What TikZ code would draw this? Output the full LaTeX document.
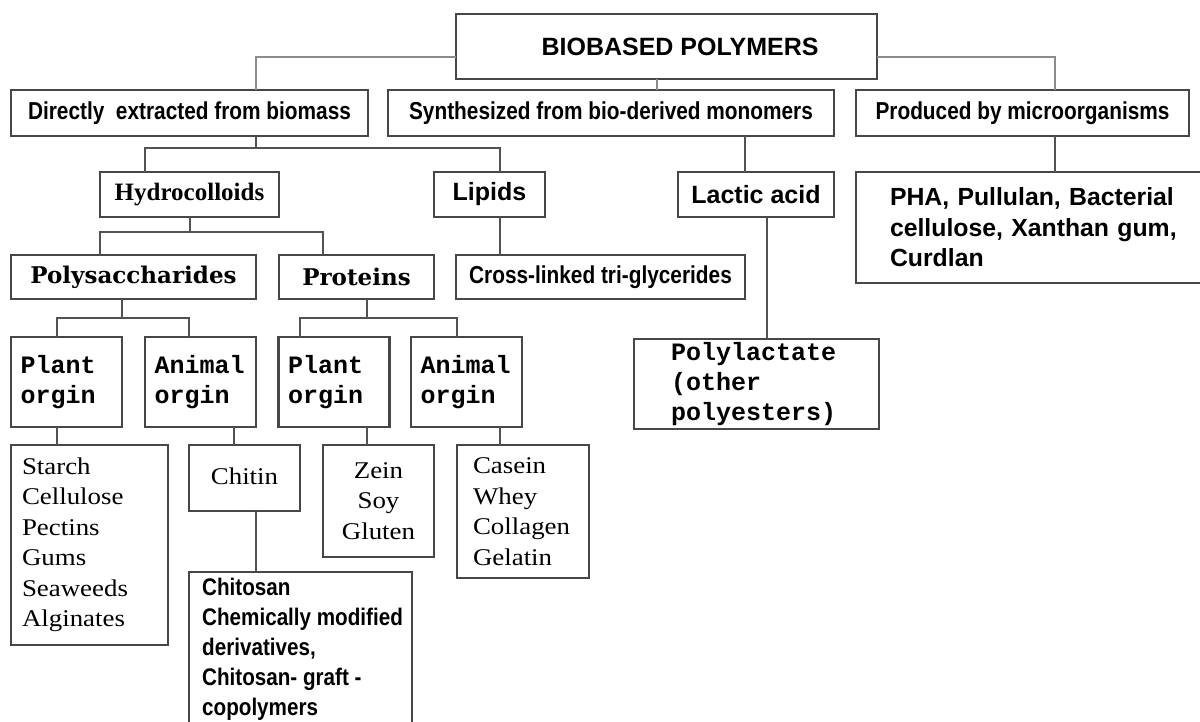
\documentclass[tikz,border=0pt]{standalone}
\usepackage{fontspec}
\newfontfamily\fsans{Liberation Sans}
\newfontfamily\fnarrow{Liberation Sans}[FakeStretch=0.85]
\newfontfamily\fchito{Liberation Sans}[FakeStretch=0.86]
\newfontfamily\fmono{Liberation Mono}
\newfontfamily\flist{Liberation Serif}[FakeStretch=1.12]
\newfontfamily\ftimes{Liberation Serif}
\newfontfamily\fdeja{DejaVu Serif}
\begin{document}
\begin{tikzpicture}[x=1pt,y=-1pt,
  box/.style={draw=black!72, line width=2.2pt, rectangle, inner sep=0pt, outer sep=0pt},
  conn/.style={draw=black!68, line width=2pt},
  topconn/.style={draw=black!45, line width=1.6pt},
  narrowtxt/.style={font=\fnarrow\bfseries\fontsize{24.5}{30}\selectfont},
  boldsans/.style={font=\fsans\bfseries\fontsize{25}{30.5}\selectfont},
  monotxt/.style={font=\fmono\bfseries\fontsize{25}{30}\selectfont},
  listtxt/.style={font=\flist\fontsize{24}{30.5}\selectfont},
  origin/.style={box, minimum width=111, minimum height=90, text width=92, inner xsep=9.5, align=left, monotxt}
]
\useasboundingbox (0,0) rectangle (1200,722);

% level 1
\node[box, minimum width=421, minimum height=65, boldsans] (top) at (666.5,46.5) {\hspace*{27pt}BIOBASED POLYMERS};

% level 2
\node[box, minimum width=357, minimum height=46, narrowtxt] (direct) at (189.5,113) {Directly\ \ extracted from biomass};
\node[box, minimum width=446, minimum height=46, narrowtxt] (synth) at (611,113) {Synthesized from bio-derived monomers};
\node[box, minimum width=333, minimum height=46, narrowtxt] (prod) at (1022.5,113) {Produced by microorganisms};

% level 3
\node[box, minimum width=179, minimum height=45, font=\ftimes\bfseries\fontsize{25}{30}\selectfont] (hydro) at (189.5,194.5) {Hydrocolloids};
\node[box, minimum width=111, minimum height=45, boldsans] (lipids) at (489.5,194.5) {Lipids};
\node[box, minimum width=156, minimum height=45, boldsans] (lactic) at (756,194.5) {Lactic acid};
\node[box, minimum width=368, minimum height=111, text width=300, inner xsep=34, align=left, font=\fsans\bfseries\fontsize{24.8}{30.5}\selectfont] (pha) at (1040,227.5) {PHA, Pullulan, Bacterial\\cellulose, Xanthan gum,\\Curdlan};

% level 4
\node[box, minimum width=245, minimum height=44, font=\fdeja\bfseries\fontsize{23}{28}\selectfont] (polys) at (133.5,277) {Polysaccharides};
\node[box, minimum width=155, minimum height=44, font=\fdeja\bfseries\fontsize{23}{28}\selectfont] (proteins) at (356.5,277) {Proteins};
\node[box, minimum width=289, minimum height=44, narrowtxt] (cross) at (600.5,277) {Cross-linked tri-glycerides};
\node[box, minimum width=245, minimum height=90, text width=171, inner xsep=37, align=left, monotxt] (polylac) at (756.5,384) {Polylactate\\(other\\polyesters)};

% level 5
\node[origin] (plant1) at (66.5,382) {Plant\\orgin};
\node[origin] (animal1) at (200.5,382) {Animal\\orgin};
\node[origin] (plant2) at (334,382) {Plant\\orgin};
\node[origin] (animal2) at (466.5,382) {Animal\\orgin};

% level 6
\node[box, minimum width=157, minimum height=200, text width=135, inner xsep=11, align=left, listtxt] (starch) at (89.5,545) {Starch\\Cellulose\\Pectins\\Gums\\Seaweeds\\Alginates};
\node[box, minimum width=111, minimum height=66, listtxt] (chitin) at (244.5,478) {\raisebox{3pt}{Chitin}};
\node[box, minimum width=111, minimum height=112, text width=101, inner xsep=5, align=center, listtxt] (zein) at (378.5,501) {Zein\\Soy\\Gluten};
\node[box, minimum width=132, minimum height=133, text width=100, inner xsep=16, align=left, listtxt] (casein) at (523,511.5) {Casein\\Whey\\Collagen\\Gelatin};
\node[box, minimum width=223, minimum height=173] (chitosan) at (300.5,658.5) {};
\node[anchor=north west, inner sep=0pt, align=left, font=\fchito\bfseries\fontsize{24}{30}\selectfont] (chitosantext) at (202,578) {Chitosan\\Chemically modified\\derivatives,\\Chitosan- graft -\\copolymers};

% connectors from the title
\draw[topconn] ([yshift=-10.5pt]top.west) -| ([xshift=66.5pt]direct.north);
\draw[topconn] ([xshift=-9.5pt]top.south) -- ([xshift=46pt]synth.north);
\draw[topconn] ([yshift=-10.5pt]top.east) -| ([xshift=32.5pt]prod.north);

% level 2 -> 3
\draw[conn] ([xshift=66.5pt]direct.south) -- ++(0,12) -| ([xshift=-44.5pt]hydro.north);
\draw[conn] ([xshift=66.5pt]direct.south) -- ++(0,12) -| ([xshift=10.5pt]lipids.north);
\draw[conn] ([xshift=134pt]synth.south) -- ([xshift=-11pt]lactic.north);
\draw[conn] ([xshift=32.5pt]prod.south) -- ([xshift=15pt]pha.north);

% level 3 -> 4
\draw[conn] (hydro.south) -- ++(0,15) -| ([xshift=-33.5pt]polys.north);
\draw[conn] (hydro.south) -- ++(0,15) -| ([xshift=-33.5pt]proteins.north);
\draw[conn] ([xshift=10.5pt]lipids.south) -- ([xshift=-100.5pt]cross.north);
\draw[conn] ([xshift=11pt]lactic.south) -- ([xshift=10.5pt]polylac.north);

% level 4 -> 5
\draw[conn] ([xshift=-11.5pt]polys.south) -- ++(0,19) -| ([xshift=-9.5pt]plant1.north);
\draw[conn] ([xshift=-11.5pt]polys.south) -- ++(0,19) -| ([xshift=-11.5pt]animal1.north);
\draw[conn] ([xshift=10.5pt]proteins.south) -- ++(0,19) -| ([xshift=-34pt]plant2.north);
\draw[conn] ([xshift=10.5pt]proteins.south) -- ++(0,19) -| ([xshift=-9.5pt]animal2.north);

% level 5 -> 6
\draw[conn] ([xshift=-9.5pt]plant1.south) -- ([xshift=-32.5pt]starch.north);
\draw[conn] ([xshift=33.5pt]animal1.south) -- ([xshift=-10.5pt]chitin.north);
\draw[conn] ([xshift=33pt]plant2.south) -- ([xshift=-11.5pt]zein.north);
\draw[conn] ([xshift=33.5pt]animal2.south) -- ([xshift=-23pt]casein.north);
\draw[conn] ([xshift=11.5pt]chitin.south) -- ([xshift=-44.5pt]chitosan.north);
\end{tikzpicture}
\end{document}
